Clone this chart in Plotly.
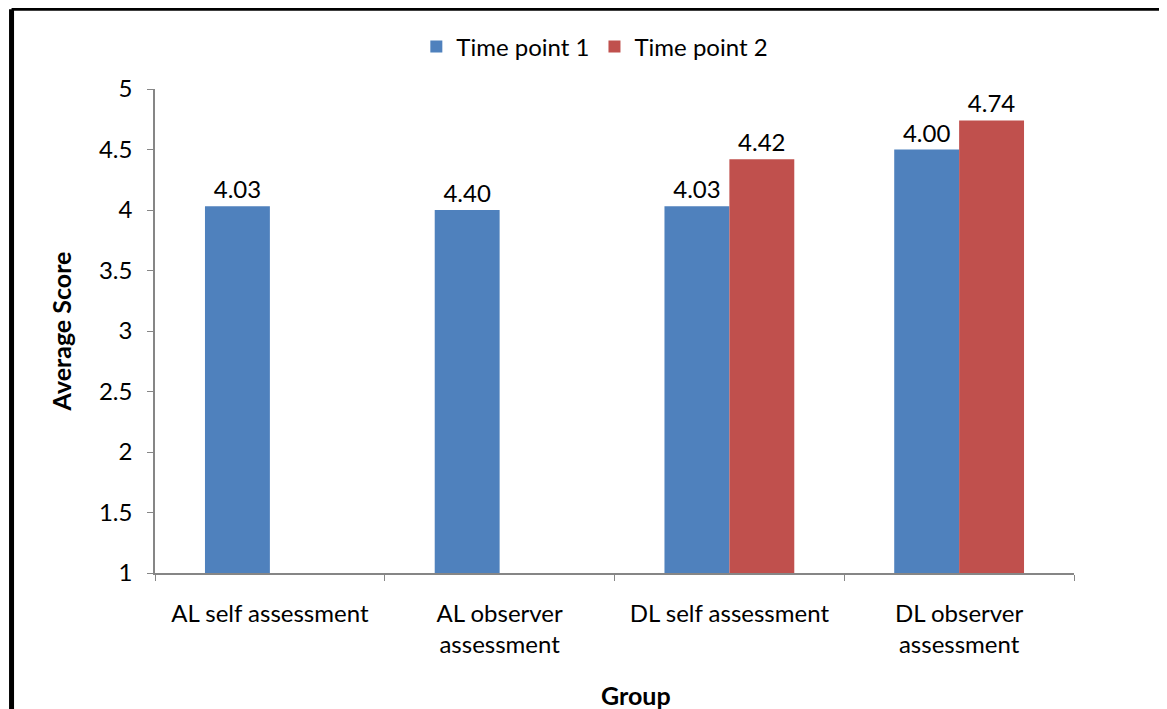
import plotly.graph_objects as go

categories = ["AL self assessment", "AL observer<br>assessment", "DL self assessment", "DL observer<br>assessment"]
tp1_values = [4.03, 4.00, 4.03, 4.50]
tp2_values = [None, None, 4.42, 4.74]
tp1_labels = ["4.03", "4.40", "4.03", "4.00"]
tp2_labels = ["", "", "4.42", "4.74"]
y_ticks = [1, 1.5, 2, 2.5, 3, 3.5, 4, 4.5, 5]
y_tick_text = ["1", "1.5", "2", "2.5", "3", "3.5", "4", "4.5", "5"]
x_title = "Group"
y_title = "Average Score"

FONT = "Lato"
BLUE = "#4F81BD"
RED = "#C0504D"
AXIS = "#868686"

fig = go.Figure()
fig.add_trace(go.Bar(name="Time point 1", x=categories, y=tp1_values,
                     marker=dict(color=BLUE, line=dict(width=0)),
                     text=tp1_labels, textposition="outside", cliponaxis=False,
                     textfont=dict(family=FONT, size=24, color="black")))
fig.add_trace(go.Bar(name="Time point 2", x=categories, y=tp2_values,
                     marker=dict(color=RED, line=dict(width=0)),
                     text=tp2_labels, textposition="outside", cliponaxis=False,
                     textfont=dict(family=FONT, size=24, color="black")))

fig.update_layout(
    width=1159, height=701,
    margin=dict(l=147, r=93, t=81, b=136, autoexpand=False),
    paper_bgcolor="white", plot_bgcolor="white",
    barmode="group", bargap=0.435, bargroupgap=0,
    font=dict(family=FONT, size=24, color="black"),
    showlegend=True,
    legend=dict(orientation="h", x=0.4786, xanchor="center", y=1.087, yanchor="middle",
                font=dict(family=FONT, size=24, color="black"),
                itemwidth=30, traceorder="normal"),
    xaxis=dict(showline=True, linecolor=AXIS, linewidth=1.5,
               ticks="outside", tickson="boundaries", ticklen=6, tickcolor=AXIS,
               tickfont=dict(family=FONT, size=24, color="black"),
               showgrid=False, zeroline=False, ticklabelstandoff=18, automargin=False),
    yaxis=dict(range=[1, 5], tickvals=y_ticks, ticktext=y_tick_text,
               showline=True, linecolor=AXIS, linewidth=1.5,
               ticks="outside", ticklen=6, tickcolor=AXIS,
               tickfont=dict(family=FONT, size=24, color="black"),
               title=dict(text="<b>" + y_title + "</b>", font=dict(family=FONT, size=25), standoff=20),
               showgrid=False, zeroline=False, ticklabelstandoff=10, automargin=False),
)

# x-axis title (offset slightly right of the plot centre, as in the original)
fig.add_annotation(text="<b>" + x_title + "</b>", xref="paper", yref="paper",
                   x=0.5234, y=-0.252, xanchor="center", yanchor="middle",
                   showarrow=False, font=dict(family=FONT, size=25, color="black"))

# page frame (left and top rules of the surrounding box)
fig.add_shape(type="line", xref="paper", yref="paper", x0=-0.1561, x1=1.2, y0=1.165, y1=1.165,
              line=dict(color="black", width=3))
fig.add_shape(type="line", xref="paper", yref="paper", x0=-0.1561, x1=-0.1561, y0=1.165, y1=-0.3,
              line=dict(color="black", width=5))

fig.write_html("out.html")
